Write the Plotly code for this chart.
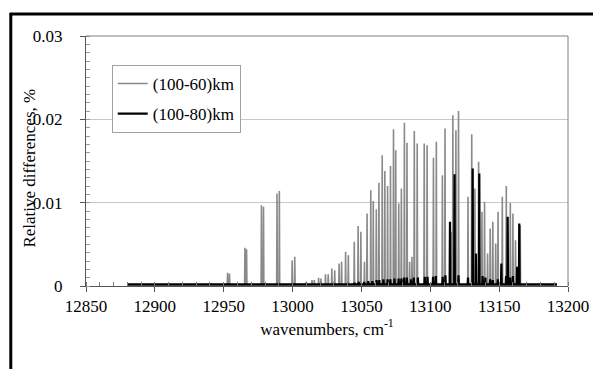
import plotly.graph_objects as go

# ---------------- data ----------------
x_range = [12850, 13200]
y_range = [0, 0.03]
x_ticks = [12850, 12900, 12950, 13000, 13050, 13100, 13150, 13200]
y_ticks = [0, 0.01, 0.02, 0.03]
y_tick_labels = ["0", "0.01", "0.02", "0.03"]

series_names = ["(100-60)km", "(100-80)km"]

# (100-60)km line positions (cm-1) and relative differences (%)
gray_pos = [12940.6, 12952.8, 12954.2, 12965.4, 12966.6, 12977.4, 12978.9,
            12988.7, 12990.4, 12999.7, 13001.6, 13006.2, 13009.8, 13014.1,
            13015.8, 13018.9, 13020.6, 13023.9, 13025.9, 13028.5, 13030.6,
            13033.8, 13035.6, 13038.5, 13040.5, 13044.8, 13047.6, 13049.6,
            13052.2, 13054.1, 13056.8, 13058.6, 13060.8, 13062.7, 13065.1,
            13067.0, 13069.0, 13071.1, 13073.3, 13074.9, 13077.1, 13079.0,
            13081.2, 13083.1, 13085.0, 13086.7, 13088.4, 13090.5, 13095.6,
            13097.7, 13102.3, 13104.4, 13108.8, 13110.7, 13115.2, 13116.4,
            13118.6, 13120.5, 13127.4, 13130.1, 13132.4, 13135.1, 13137.5,
            13139.4, 13141.6, 13143.5, 13145.4, 13147.5, 13149.2, 13152.3,
            13155.2, 13158.1, 13160.0, 13161.9, 13165.3, 13170.3, 13180.4,
            13190.7]
gray_h = [0.0003, 0.0016, 0.0015, 0.0046, 0.0044, 0.0097, 0.0095,
          0.0111, 0.0114, 0.0031, 0.0035, 0.0003, 0.0005, 0.0007,
          0.0007, 0.0010, 0.0009, 0.0014, 0.0014, 0.0021, 0.0019,
          0.0027, 0.0029, 0.0041, 0.0037, 0.0053, 0.0072, 0.0065,
          0.0029, 0.0087, 0.0115, 0.0102, 0.0092, 0.0124, 0.0157,
          0.0138, 0.0120, 0.0144, 0.0188, 0.0163, 0.0099, 0.0117,
          0.0196, 0.0172, 0.0029, 0.0035, 0.0186, 0.0171, 0.0171,
          0.0169, 0.0154, 0.0173, 0.0133, 0.0189, 0.0065, 0.0205,
          0.0187, 0.0210, 0.0107, 0.0182, 0.0117, 0.0149, 0.0089,
          0.0101, 0.0039, 0.0069, 0.0077, 0.0051, 0.0089, 0.0107,
          0.0120, 0.0100, 0.0087, 0.0055, 0.0073, 0.0003, 0.0003,
          0.0003]

# (100-80)km line positions (cm-1) and relative differences (%)
black_pos = [13045.0, 13048.0, 13052.0, 13055.0, 13058.0, 13061.0, 13063.0,
             13066.0, 13069.0, 13071.0, 13074.0, 13077.0, 13079.0, 13081.0,
             13083.0, 13086.0, 13088.0, 13091.0, 13096.0, 13098.0, 13102.0,
             13104.0, 13109.0, 13111.0, 13114.3, 13117.6, 13120.5, 13127.4,
             13130.8, 13133.2, 13135.6, 13138.0, 13140.0, 13143.5, 13145.4,
             13149.0, 13151.6, 13155.0, 13156.2, 13158.0, 13160.0, 13163.1,
             13164.6]
black_h = [0.0004, 0.0005, 0.0005, 0.0006, 0.0006, 0.0007, 0.0007,
           0.0008, 0.0008, 0.0008, 0.0009, 0.0009, 0.0009, 0.0010,
           0.0010, 0.0008, 0.0010, 0.0010, 0.0011, 0.0011, 0.0011,
           0.0012, 0.0011, 0.0013, 0.0077, 0.0134, 0.0013, 0.0010,
           0.0141, 0.0039, 0.0135, 0.0012, 0.0010, 0.0008, 0.0007,
           0.0008, 0.0027, 0.0012, 0.0083, 0.0010, 0.0012, 0.0023,
           0.0075]

gray_span = [12880, 13192]
black_span = [12880, 13192]
gray_base = 0.0001
black_base = 0.0002


def spikes(pos, h, base, span, half=0.25):
    xs, ys = [span[0]], [base]
    for p, v in sorted(zip(pos, h)):
        xs += [p - half, p, p + half]
        ys += [base, v, base]
    xs.append(span[1])
    ys.append(base)
    return xs, ys


gx, gy = spikes(gray_pos, gray_h, gray_base, gray_span)
bx, by = spikes(black_pos, black_h, black_base, black_span)

SERIF = "Liberation Serif"

fig = go.Figure()
fig.add_trace(go.Scatter(x=gx, y=gy, mode="lines", name=series_names[0],
                         line=dict(color="#8a8a8a", width=1.6),
                         legendgroup="a"))
fig.add_trace(go.Scatter(x=bx, y=by, mode="lines", name=series_names[1],
                         line=dict(color="#000000", width=2.2),
                         legendgroup="b"))

# ---------- layout geometry (figure pixels; page has an 8px body margin) ----
OFF = 8
W, H = 601 - OFF, 369 - OFF
L, R, T, B = 86 - OFF, 573 - OFF, 36 - OFF, 286 - OFF
pw, ph = R - L, B - T


def px(x):
    """screen x pixel -> paper coordinate"""
    return (x - OFF - L) / pw


def py(y):
    """screen y pixel -> paper coordinate"""
    return (B - (y - OFF)) / ph


fig.update_layout(
    width=W, height=H,
    margin=dict(l=L, r=W - R, t=T, b=H - B),
    paper_bgcolor="white", plot_bgcolor="white",
    font=dict(family=SERIF, size=16, color="black"),
    showlegend=True,
    legend=dict(x=px(112), y=py(65), xanchor="left", yanchor="top",
                bgcolor="white", bordercolor="#a0a0a0", borderwidth=1,
                font=dict(family=SERIF, size=17, color="black"),
                itemwidth=30, tracegroupgap=5, traceorder="grouped"),
    xaxis=dict(range=x_range, tickvals=x_ticks,
               ticktext=[str(v) for v in x_ticks],
               showgrid=False, zeroline=False,
               showline=True, linecolor="#555555", linewidth=1,
               ticks="outside", ticklen=5, tickcolor="#555555",
               minor=dict(ticks="inside", dtick=10, ticklen=4,
                          tickcolor="#777777", showgrid=False),
               tickfont=dict(family=SERIF, size=17),
               title=dict(text="wavenumbers, cm<sup>-1</sup>",
                          font=dict(family=SERIF, size=17), standoff=6)),
    yaxis=dict(range=y_range, tickvals=y_ticks, ticktext=y_tick_labels,
               showgrid=True, gridcolor="#c8c8c8", gridwidth=1,
               zeroline=False,
               showline=True, linecolor="#555555", linewidth=1,
               ticks="outside", ticklen=5, tickcolor="#555555",
               minor=dict(ticks="inside", dtick=0.001, ticklen=4,
                          tickcolor="#999999", showgrid=False),
               tickfont=dict(family=SERIF, size=17),
               ticklabelstandoff=14),
    shapes=[
        # plot frame (top / right)
        dict(type="line", xref="paper", yref="paper", x0=0, x1=1, y0=1, y1=1,
             line=dict(color="#808080", width=1)),
        dict(type="line", xref="paper", yref="paper", x0=1, x1=1, y0=0, y1=1,
             line=dict(color="#808080", width=1)),
        # outer black border of the figure
        dict(type="line", xref="paper", yref="paper", x0=px(9), x1=px(601),
             y0=py(14), y1=py(14), line=dict(color="black", width=3)),
        dict(type="line", xref="paper", yref="paper", x0=px(10), x1=px(10),
             y0=py(13), y1=py(369), line=dict(color="black", width=3)),
    ],
    annotations=[
        dict(text="Relative differences, %", xref="paper", yref="paper",
             x=px(28), y=py(168), textangle=-90, showarrow=False,
             xanchor="center", yanchor="middle",
             font=dict(family=SERIF, size=17, color="black")),
    ],
)

fig.write_html("out.html")
